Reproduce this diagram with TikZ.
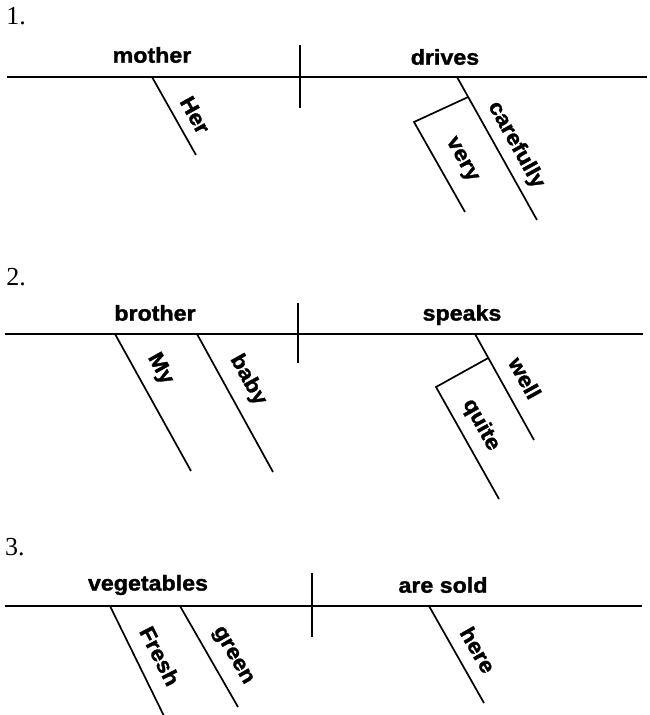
\documentclass[tikz,border=0pt]{standalone}
\usepackage{fontspec}
\usetikzlibrary{calc}
\newfontfamily\labfont{Liberation Sans}[FakeStretch=1.08,FakeBold=1.5]
\newfontfamily\numfont{Liberation Serif}
\tikzset{
  word/.style={font=\labfont\bfseries\fontsize{21.5}{25}\selectfont, inner sep=0pt},
  num/.style={font=\numfont\fontsize{26}{30}\selectfont, inner sep=0pt},
  rule/.style={line width=1.8pt},
  slantline/.style={line width=1.7pt},
}
\begin{document}
\begin{tikzpicture}[x=1pt,y=-1pt]
\useasboundingbox (0,0) rectangle (650,715);
% ---------- 1 ----------
\node[num] (n1) at (16,16) {1.};
\coordinate (b1l) at (7,77); \coordinate (b1r) at (647,77);
\draw[rule] (b1l) -- (b1r);
\coordinate (d1t) at (300,45); \coordinate (d1b) at (300,108);
\draw[rule] (d1t) -- (d1b);
\node[word] (mother) at (152,55) {mother};
\node[word] (drives) at (445,57) {drives};
\coordinate (her1) at (152,77); \coordinate (her2) at (196,155);
\draw[slantline] (her1) -- (her2);
\node[word, rotate=-61] (her) at (195,115) {Her};
\coordinate (car1) at (457,77); \coordinate (car2) at (537,220);
\draw[slantline] (car1) -- (car2);
\node[word, rotate=-61] (carefully) at (516,145) {carefully};
\coordinate (vb) at ($(car1)!0.14!(car2)$);
\coordinate (vc) at (414,122); \coordinate (ve) at (465,212);
\draw[slantline] (vb) -- (vc) -- (ve);
\node[word, rotate=-61] (very) at (461,160) {very};
% ---------- 2 ----------
\node[num] (n2) at (16,277) {2.};
\coordinate (b2l) at (5,334); \coordinate (b2r) at (643,334);
\draw[rule] (b2l) -- (b2r);
\coordinate (d2t) at (298,303); \coordinate (d2b) at (298,363);
\draw[rule] (d2t) -- (d2b);
\node[word] (brother) at (155,313) {brother};
\node[word] (speaks) at (462,315) {speaks};
\coordinate (my1) at (115,334); \coordinate (my2) at (191,471);
\draw[slantline] (my1) -- (my2);
\node[word, rotate=-61] (my) at (160,369) {My};
\coordinate (ba1) at (197,334); \coordinate (ba2) at (273,472);
\draw[slantline] (ba1) -- (ba2);
\node[word, rotate=-61] (baby) at (248,380) {baby};
\coordinate (we1) at (475,334); \coordinate (we2) at (534,440);
\draw[slantline] (we1) -- (we2);
\node[word, rotate=-61] (well) at (525,378) {well};
\coordinate (qb) at ($(we1)!0.226!(we2)$);
\coordinate (qc) at (436,387); \coordinate (qe) at (499,499);
\draw[slantline] (qb) -- (qc) -- (qe);
\node[word, rotate=-61] (quite) at (481,425) {quite};
% ---------- 3 ----------
\node[num] (n3) at (15,547) {3.};
\coordinate (b3l) at (5,606); \coordinate (b3r) at (642,606);
\draw[rule] (b3l) -- (b3r);
\coordinate (d3t) at (312,573); \coordinate (d3b) at (312,637);
\draw[rule] (d3t) -- (d3b);
\node[word] (vegetables) at (148,585) {vegetables};
\node[word] (aresold) at (443,585) {are sold};
\coordinate (fr1) at (110,606); \coordinate (fr2) at (164,716);
\draw[slantline] (fr1) -- (fr2);
\node[word, rotate=-63] (fresh) at (160,656) {Fresh};
\coordinate (gr1) at (180,606); \coordinate (gr2) at (238,707);
\draw[slantline] (gr1) -- (gr2);
\node[word, rotate=-60] (green) at (232,656) {green};
\coordinate (he1) at (429,606); \coordinate (he2) at (484,703);
\draw[slantline] (he1) -- (he2);
\node[word, rotate=-60] (here) at (478,650) {here};
\end{tikzpicture}
\end{document}
